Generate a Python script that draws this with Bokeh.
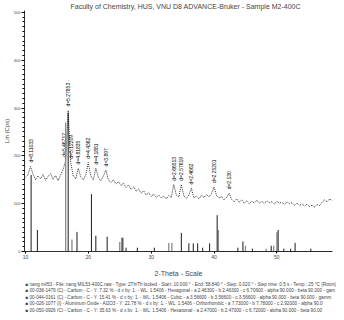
from bokeh.plotting import figure
from bokeh.models import Range1d, Title, FixedTicker
from bokeh.embed import file_html
from bokeh.resources import INLINE
from bokeh.core.properties import value

FONT = "Liberation Sans"

# measured scan (Lin counts), 2-theta grid from 10.0 deg, step 0.4 deg
counts = [155, 160, 178, 162, 150, 158, 152, 161, 149, 157,
          163, 151, 159, 148, 160, 172, 190, 295, 186, 158,
          152, 174, 156, 150, 160, 186, 158, 150, 174, 155,
          148, 158, 170, 150, 144, 150, 141, 146, 138, 143,
          134, 139, 130, 135, 126, 131, 122, 127, 118, 123,
          115, 120, 113, 118, 112, 116, 110, 117, 113, 140,
          118, 114, 140, 116, 111, 118, 132, 112, 116, 110,
          118, 113, 119, 114, 121, 135, 117, 112, 115, 108,
          113, 122, 109, 104, 110, 103, 108, 101, 106, 100,
          105, 102, 107, 101, 105, 100, 106, 102, 104, 99,
          105, 101, 103, 98, 104, 100, 102, 97, 101, 96,
          100, 95, 99, 94, 97, 93, 98, 96, 103, 108,
          104, 110, 106]
scan_start = 10.0
scan_step = 0.4
two_theta = [round(scan_start + scan_step * i, 1) for i in range(len(counts))]

# peak d-value labels
peak_pos = [10.9, 16.2, 16.8, 17.3, 18.4, 20.0, 21.2, 22.8, 33.6, 34.8, 36.4, 40.0, 42.4]
peak_top = [178, 190, 295, 186, 174, 186, 174, 170, 140, 140, 132, 135, 122]
peak_lbl = ["d=8.11033", "d=5.46712", "d=5.27853 \u00b7", "d=5.12209", "d=4.81835",
            "d=4.4362", "d=4.1881", "d=3.897", "d=2.66513", "d=2.57619",
            "d=2.4662", "d=2.25201", "d=2.130"]

# reference pattern 1 (black sticks)
ref1_pos = [10.9, 11.9, 16.8, 18.2, 20.5, 21.2, 23.0, 25.5, 26.0, 27.8, 30.5,
            34.8, 36.0, 36.7, 37.4, 38.2, 39.3, 40.5, 43.8, 44.6, 46.1, 49.1,
            50.2, 51.1, 52.2, 52.9, 55.4]
ref1_int = [160, 45, 290, 41, 120, 33, 31, 29, 8, 8, 8,
            39, 17, 17, 17, 8, 17, 76, 8, 21, 6, 12,
            45, 6, 6, 18, 6]

# reference pattern 2 (grey sticks)
ref2_pos = [16.4, 17.4, 25.0, 25.3, 32.8, 33.3, 40.7, 45.0, 48.3, 49.5, 50.0]
ref2_int = [270, 25, 20, 29, 18, 18, 45, 12, 6, 12, 40]
ref2_from = [23.2, 40.7]
ref2_to = [30.5, 58.8]

x_ticks = [10, 20, 30, 40, 50]
y_ticks = [0, 100, 200, 300, 400, 500]

legend_lines = [
    "\u25a0 nang mil53 - File: nang MIL53-400C.raw - Type: 2Th/Th locked - Start: 10.000 \u00b0 - End: 58.840 \u00b0 - Step: 0.020 \u00b0 - Step time: 0.5 s - Temp.: 25 \u00b0C (Room)",
    "\u25a0 00-038-1479 (C) - Carbon - C - Y: 7.32 % - d x by: 1. - WL: 1.5406 - Hexagonal - a 2.46300 - b 2.46300 - c 6.70600 - alpha 90.000 - beta 90.000 - gam",
    "\u25a0 00-044-0161 (C) - Carbon - C - Y: 15.41 % - d x by: 1. - WL: 1.5406 - Cubic - a 3.56600 - b 3.56600 - c 3.56600 - alpha 90.000 - beta 90.000 - gamm",
    "\u25a0 00-026-1077 (I) - Aluminum Oxide - Al2O3 - Y: 22.78 % - d x by: 1. - WL: 1.5406 - Orthorhombic - a 7.73000 - b 7.78000 - c 2.92000 - alpha 90.0",
    "\u25a0 00-050-0926 (C) - Carbon - C - Y: 35.63 % - d x by: 1. - WL: 1.5406 - Hexagonal - a 2.47000 - b 2.47000 - c 6.72000 - alpha 90.000 - beta 90.00",
]

p = figure(width=336, height=312, output_backend="svg", toolbar_location=None,
           x_range=Range1d(9.85, 58.85), y_range=Range1d(0, 504),
           min_border_left=16, min_border_right=4, min_border_top=10,
           min_border_bottom=58)
p.outline_line_color = None
p.xgrid.grid_line_color = None
p.ygrid.grid_line_color = None
p.background_fill_color = "white"
p.border_fill_color = "white"

p.title.text = "Faculty of Chemistry, HUS, VNU  D8 ADVANCE-Bruker - Sample M2-400C"
p.title.text_font = FONT
p.title.text_font_size = "7px"
p.title.text_font_style = "normal"
p.title.align = "left"
p.title.offset = 46
p.title.standoff = 1

# scan
p.line(two_theta, counts, line_color="black", line_width=0.8, line_dash="1 1")

# peak labels
p.text(x=peak_pos, y=[t + 8 for t in peak_top], text=peak_lbl, angle=1.5708,
       text_font=value(FONT), text_font_size="5px", text_align="left",
       text_baseline="middle", text_color="black")

# reference patterns
p.segment(x0=ref2_from, y0=[0] * len(ref2_from), x1=ref2_to, y1=[0] * len(ref2_to),
          line_color="#8a8a8a", line_width=1.2)
p.segment(x0=ref2_pos, y0=[0] * len(ref2_pos), x1=ref2_pos, y1=ref2_int,
          line_color="#8a8a8a", line_width=1.3)
p.segment(x0=ref1_pos, y0=[0] * len(ref1_pos), x1=ref1_pos, y1=ref1_int,
          line_color="black", line_width=0.9)

xa = p.xaxis[0]
xa.ticker = FixedTicker(ticks=x_ticks)
xa.axis_label = "2-Theta - Scale"
xa.axis_label_text_font = FONT
xa.axis_label_text_font_size = "7px"
xa.axis_label_text_font_style = "normal"
xa.axis_label_standoff = 8
xa.major_label_text_font = FONT
xa.major_label_text_font_size = "5px"
xa.major_label_standoff = 1
xa.major_tick_out = 2
xa.major_tick_in = 0
xa.minor_tick_line_color = None
xa.axis_line_width = 0.8

ya = p.yaxis[0]
ya.ticker = FixedTicker(ticks=y_ticks, minor_ticks=list(range(0, 505, 10)))
ya.axis_label = "Lin (Cps)"
ya.axis_label_text_font = FONT
ya.axis_label_text_font_size = "6px"
ya.axis_label_text_font_style = "normal"
ya.axis_label_standoff = 1
ya.major_label_text_font = FONT
ya.major_label_text_font_size = "4px"
ya.major_label_standoff = 1
ya.major_tick_out = 3
ya.major_tick_in = 0
ya.minor_tick_out = 2
ya.minor_tick_in = 0
ya.axis_line_width = 0.8

legend = Title(text="\n".join(legend_lines), align="left", offset=1, standoff=0,
               text_font=FONT, text_font_size="4.6px", text_font_style="normal",
               text_line_height=1.3)
p.add_layout(legend, "below")

open("out.html", "w").write(file_html(p, INLINE))
